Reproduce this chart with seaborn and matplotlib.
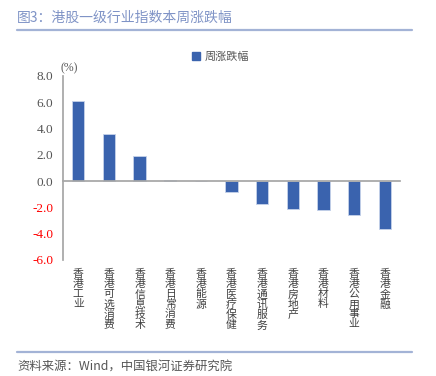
import matplotlib
matplotlib.use("Agg")
import matplotlib.pyplot as plt
import seaborn as sns
import pandas as pd
from matplotlib.lines import Line2D
from matplotlib.ticker import FixedLocator

sns.set_theme(style="white")
plt.rcParams['font.family'] = ['Noto Sans CJK SC', 'DejaVu Sans']

categories = ["香港工业", "香港可选消费", "香港信息技术", "香港日常消费", "香港能源",
              "香港医疗保健", "香港通讯服务", "香港房地产", "香港材料", "香港公用事业", "香港金融"]
values = [6.08, 3.57, 1.88, 0.08, 0.01, -0.86, -1.77, -2.15, -2.23, -2.61, -3.62]
series_name = "周涨跌幅"
yticks = [8.0, 6.0, 4.0, 2.0, 0.0, -2.0, -4.0, -6.0]

df = pd.DataFrame({"cat": categories, "val": values})

fig = plt.figure(figsize=(4.36, 3.76), dpi=100)
ax = fig.add_axes([63/436, 1-260/376, (400-63)/436, (260-75.7)/376])

bar_color = "#3A63AE"
sns.barplot(data=df, x="cat", y="val", ax=ax, color=bar_color, width=0.4,
            saturation=1, edgecolor="#C5D2EA", linewidth=0.6)

ax.set_ylim(-6, 8)
ax.set_xlim(-0.5, len(categories) - 0.5)
ax.set_yticks(yticks)
ax.set_yticklabels([f"{t:.1f}" for t in yticks], family="Liberation Serif", fontsize=9.5)
for lab, t in zip(ax.get_yticklabels(), yticks):
    lab.set_color("#FF0000" if t < 0 else "#555555")
ax.set_xlabel("")
ax.set_ylabel("")

for s in ["top", "right"]:
    ax.spines[s].set_visible(False)
ax.spines["left"].set_color("#A6A6A6")
ax.spines["bottom"].set_color("#A6A6A6")
ax.spines["bottom"].set_position(("data", 0))
ax.tick_params(axis="y", which="major", direction="out", length=4, color="#A6A6A6", width=0.8, pad=3)

# x tick labels as stacked vertical text
ax.set_xticks(range(len(categories)))
ax.set_xticklabels([])
ax.tick_params(axis="x", which="major", length=0)
ax.xaxis.set_minor_locator(FixedLocator([i + 0.5 for i in range(len(categories))]))
ax.tick_params(axis="x", which="minor", direction="out", length=4, color="#A6A6A6", width=0.8)
for i, c in enumerate(categories):
    ax.text(i, -6.7, "\n".join(c), ha="center", va="top", fontsize=7.8,
            color="#404040", linespacing=1.0)

ax.grid(False)

# (%) label
fig.text(60/436, 1-68/376, "(%)", fontsize=8.5, family="Liberation Serif", color="#555555",
         ha="left", va="center")

# legend
handle = Line2D([0], [0], marker="s", linestyle="", markersize=5.5,
                markerfacecolor=bar_color, markeredgecolor=bar_color)
fig.legend([handle], [series_name], loc="center", bbox_to_anchor=(220/436, 1-57/376),
           frameon=False, fontsize=8, handletextpad=0.3, borderaxespad=0,
           labelcolor="#555555", handlelength=1.0)

# title and rules
fig.text(17/436, 1-18/376, "图3：港股一级行业指数本周涨跌幅", fontsize=10, color="#7F93C6",
         ha="left", va="center")
fig.add_artist(Line2D([17/436, 412/436], [1-30/376, 1-30/376], color="#A3B3D6", linewidth=1.6))
fig.add_artist(Line2D([17/436, 412/436], [1-352/376, 1-352/376], color="#A3B3D6", linewidth=1.6))
fig.text(17/436, 1-366/376, "资料来源：Wind，中国银河证券研究院", fontsize=8.9, color="#555555",
         ha="left", va="center", style="italic")

fig.savefig("out.png", dpi=100)
